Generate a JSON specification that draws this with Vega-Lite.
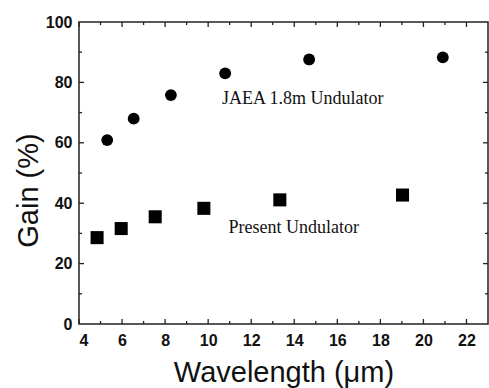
{
  "$schema": "https://vega.github.io/schema/vega-lite/v6.json",
  "autosize": "none",
  "width": 409,
  "height": 302,
  "padding": {"left": 79, "top": 22, "right": 1, "bottom": 64},
  "background": "white",
  "config": {
    "view": {"stroke": "#222222", "strokeWidth": 1.5},
    "axis": {
      "domain": false,
      "grid": false,
      "ticks": false,
      "labelFont": "Liberation Sans",
      "labelFontWeight": "bold",
      "labelFontSize": 16,
      "labelColor": "#111111",
      "titleFont": "Liberation Sans",
      "titleFontWeight": "normal",
      "titleFontSize": 29,
      "titleColor": "#111111"
    }
  },
  "datasets": {
    "pts": [
      {"series": "JAEA", "wl": 5.31, "gain": 60.9},
      {"series": "JAEA", "wl": 6.54, "gain": 68.0},
      {"series": "JAEA", "wl": 8.27, "gain": 75.8},
      {"series": "JAEA", "wl": 10.79, "gain": 83.0},
      {"series": "JAEA", "wl": 14.69, "gain": 87.6},
      {"series": "JAEA", "wl": 20.9, "gain": 88.3},
      {"series": "Present", "wl": 4.84, "gain": 28.6},
      {"series": "Present", "wl": 5.96, "gain": 31.6},
      {"series": "Present", "wl": 7.54, "gain": 35.5},
      {"series": "Present", "wl": 9.8, "gain": 38.3},
      {"series": "Present", "wl": 13.33, "gain": 41.1},
      {"series": "Present", "wl": 19.03, "gain": 42.7}
    ],
    "notes": [
      {"label": "JAEA 1.8m Undulator", "wl": 10.64, "gain": 72.8},
      {"label": "Present Undulator", "wl": 10.95, "gain": 30.0}
    ],
    "xmajor": [{"v": 4}, {"v": 6}, {"v": 8}, {"v": 10}, {"v": 12}, {"v": 14}, {"v": 16}, {"v": 18}, {"v": 20}, {"v": 22}],
    "xminor": [{"v": 5}, {"v": 7}, {"v": 9}, {"v": 11}, {"v": 13}, {"v": 15}, {"v": 17}, {"v": 19}, {"v": 21}],
    "ymajor": [{"v": 20}, {"v": 40}, {"v": 60}, {"v": 80}],
    "yminor": [{"v": 10}, {"v": 30}, {"v": 50}, {"v": 70}, {"v": 90}]
  },
  "layer": [
    {
      "data": {"name": "pts"},
      "mark": {"type": "point", "filled": true, "opacity": 1},
      "encoding": {
        "x": {
          "field": "wl", "type": "quantitative",
          "scale": {"domain": [4, 23], "nice": false, "zero": false},
          "axis": {
            "orient": "bottom",
            "values": [4,6,8,10,12,14,16,18,20,22],
            "labelPadding": 8,
            "title": "Wavelength (\u03bcm)",
            "titleX": 204.5,
            "titleY": 57,
            "titleBaseline": "alphabetic",
            "titleAlign": "center"
          }
        },
        "y": {
          "field": "gain", "type": "quantitative",
          "scale": {"domain": [0, 100], "nice": false},
          "axis": {
            "orient": "left",
            "values": [0,20,40,60,80,100],
            "labelPadding": 7,
            "title": "Gain (%)",
            "titleAngle": -90,
            "titleX": -42,
            "titleY": 168,
            "titleBaseline": "alphabetic",
            "titleAlign": "center"
          }
        },
        "shape": {
          "field": "series", "type": "nominal",
          "scale": {"domain": ["JAEA", "Present"], "range": ["circle", "square"]},
          "legend": null
        },
        "size": {
          "field": "series", "type": "nominal",
          "scale": {"domain": ["JAEA", "Present"], "range": [140, 170]},
          "legend": null
        },
        "color": {"value": "#000000"}
      }
    },
    {
      "data": {"name": "notes"},
      "mark": {"type": "text", "align": "left", "baseline": "alphabetic", "font": "Liberation Serif", "fontSize": 18, "color": "#111111"},
      "encoding": {
        "x": {"field": "wl", "type": "quantitative", "axis": null},
        "y": {"field": "gain", "type": "quantitative", "axis": null},
        "text": {"field": "label", "type": "nominal"}
      }
    },
    {
      "data": {"name": "xmajor"},
      "mark": {"type": "tick", "orient": "vertical", "size": 5, "thickness": 1.3, "yOffset": -2.5, "color": "#222222", "opacity": 1},
      "encoding": {
        "x": {"field": "v", "type": "quantitative", "axis": null},
        "y": {"datum": 0, "type": "quantitative", "axis": null}
      }
    },
    {
      "data": {"name": "xmajor"},
      "mark": {"type": "tick", "orient": "vertical", "size": 5, "thickness": 1.3, "yOffset": 2.5, "color": "#222222", "opacity": 1},
      "encoding": {
        "x": {"field": "v", "type": "quantitative", "axis": null},
        "y": {"datum": 100, "type": "quantitative", "axis": null}
      }
    },
    {
      "data": {"name": "xminor"},
      "mark": {"type": "tick", "orient": "vertical", "size": 3, "thickness": 1.3, "yOffset": -1.5, "color": "#222222", "opacity": 1},
      "encoding": {
        "x": {"field": "v", "type": "quantitative", "axis": null},
        "y": {"datum": 0, "type": "quantitative", "axis": null}
      }
    },
    {
      "data": {"name": "xminor"},
      "mark": {"type": "tick", "orient": "vertical", "size": 3, "thickness": 1.3, "yOffset": 1.5, "color": "#222222", "opacity": 1},
      "encoding": {
        "x": {"field": "v", "type": "quantitative", "axis": null},
        "y": {"datum": 100, "type": "quantitative", "axis": null}
      }
    },
    {
      "data": {"name": "ymajor"},
      "mark": {"type": "tick", "orient": "horizontal", "size": 5, "thickness": 1.3, "xOffset": 2.5, "color": "#222222", "opacity": 1},
      "encoding": {
        "y": {"field": "v", "type": "quantitative", "axis": null},
        "x": {"datum": 4, "type": "quantitative", "axis": null}
      }
    },
    {
      "data": {"name": "ymajor"},
      "mark": {"type": "tick", "orient": "horizontal", "size": 5, "thickness": 1.3, "xOffset": -2.5, "color": "#222222", "opacity": 1},
      "encoding": {
        "y": {"field": "v", "type": "quantitative", "axis": null},
        "x": {"datum": 23, "type": "quantitative", "axis": null}
      }
    },
    {
      "data": {"name": "yminor"},
      "mark": {"type": "tick", "orient": "horizontal", "size": 3, "thickness": 1.3, "xOffset": 1.5, "color": "#222222", "opacity": 1},
      "encoding": {
        "y": {"field": "v", "type": "quantitative", "axis": null},
        "x": {"datum": 4, "type": "quantitative", "axis": null}
      }
    },
    {
      "data": {"name": "yminor"},
      "mark": {"type": "tick", "orient": "horizontal", "size": 3, "thickness": 1.3, "xOffset": -1.5, "color": "#222222", "opacity": 1},
      "encoding": {
        "y": {"field": "v", "type": "quantitative", "axis": null},
        "x": {"datum": 23, "type": "quantitative", "axis": null}
      }
    }
  ],
  "resolve": {"axis": {"x": "independent", "y": "independent"}}
}
